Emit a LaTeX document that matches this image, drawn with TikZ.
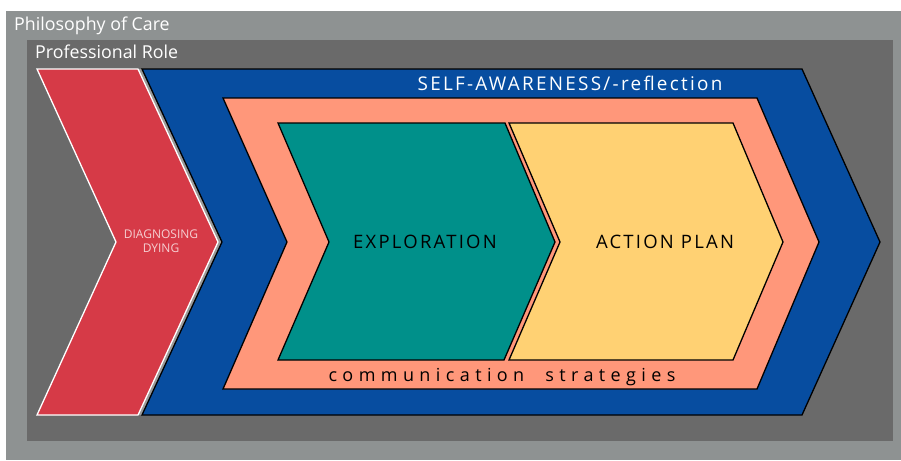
\documentclass[tikz,border=0pt]{standalone}
\usepackage{fontspec}
\setmainfont{Open Sans}
\newfontfamily\widefont[LetterSpace=12]{Open Sans}
\newfontfamily\widerfont[LetterSpace=30]{Open Sans}
\usepackage{tikz}
\usetikzlibrary{positioning}
\definecolor{carepaper}{HTML}{8E9292}
\definecolor{roledark}{HTML}{6A6A6A}
\definecolor{diagred}{HTML}{D63A47}
\definecolor{selfblue}{HTML}{074DA0}
\definecolor{commsalmon}{HTML}{FF977A}
\definecolor{explteal}{HTML}{00908A}
\definecolor{actyellow}{HTML}{FFD173}
\tikzset{
        x=1pt, y=-1pt, % one unit is one pixel of the reference
        chevron/.style={draw=black, line width=1.3pt, line join=miter}, % sets the outline of each arrow
        title/.style={text=white, inner sep=0pt, anchor=base west, font=\fontsize{17.8}{21}\selectfont},
        label/.style={inner sep=0pt, anchor=base},
}
\def\redchevron{(37,69) -- (138,69) -- (218,242) -- (138,415) -- (37,415) -- (116,242) -- cycle}
\def\bluechevron{(142,69) -- (802,69) -- (880,242) -- (802,415) -- (142,415) -- (222,242) -- cycle}
\def\salmonchevron{(223,98) -- (757,98) -- (819,242) -- (757,389) -- (223,389) -- (287,242) -- cycle}
\def\tealchevron{(278,123) -- (505,123) -- (555,242) -- (504,360) -- (278,360) -- (329,242) -- cycle}
\def\yellowchevron{(509,123) -- (733,123) -- (783,242) -- (733,360) -- (509,360) -- (560,242) -- cycle}

\begin{document}
\begin{tikzpicture}
      \useasboundingbox (0,0) rectangle (901,460);
      \fill[white] (0,0) rectangle (901,460);
      \fill[carepaper] (6,11) rectangle (901,460);
      \fill[roledark] (27,40) rectangle (893,441);
      \node[title] (care) at (14,31) {Philosophy of Care};
      \node[title] (role) at (35,59) {Professional Role};
      % outer arrows
      \fill[black!40, xshift=4pt] \redchevron;
      \draw[fill=diagred, draw=white, line width=1.3pt] \redchevron;
      \draw[chevron, fill=selfblue] \bluechevron;
      \draw[chevron, fill=commsalmon] \salmonchevron;
      % inner arrows
      \draw[chevron, fill=explteal] \tealchevron;
      \draw[chevron, fill=actyellow] \yellowchevron;
      \node[label, text=diagred!25, font=\fontsize{12}{14}\selectfont] (diag) at (161,238) {DIAGNOSING};
      \node[label, text=diagred!25, font=\fontsize{12}{14}\selectfont] (dying) at (161,252) {DYING};
      \node[label, text=white, font=\widefont\fontsize{18.9}{22}\selectfont] (self) at (570,90) {SELF-AWARENESS/-reflection};
      \node[label, font=\widefont\fontsize{18.5}{22}\selectfont] (explore) at (425,248) {EXPLORATION};
      \node[label, font=\widefont\fontsize{18.5}{22}\selectfont] (action) at (665,248) {ACTION PLAN};
      \node[label, font=\widerfont\fontsize{18}{21}\selectfont] (comm) at (502,381) {communication\hspace{11pt} strategies};
\end{tikzpicture}
\end{document}
